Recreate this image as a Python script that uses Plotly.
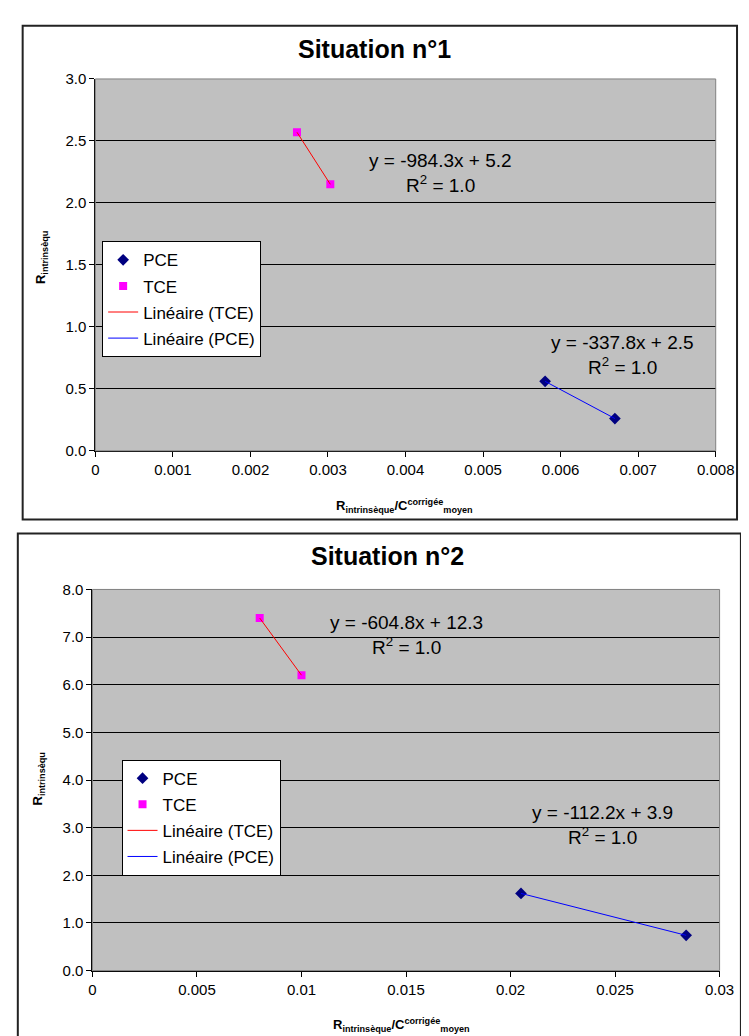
import numpy as np
import plotly.graph_objects as go

W, H = 749, 1036

# ---------------- data ----------------
titles = ["Situation n°1", "Situation n°2"]

pce_x1 = [0.0058, 0.0067]
pce_y1 = [0.56, 0.26]
tce_x1 = [0.0026, 0.00303]
tce_y1 = [2.57, 2.15]

pce_x2 = [0.0205, 0.0284]
pce_y2 = [1.62, 0.74]
tce_x2 = [0.0080, 0.0100]
tce_y2 = [7.40, 6.20]

eq_tce1 = ["y = -984.3x + 5.2", "R<sup>2</sup> = 1.0"]
eq_pce1 = ["y = -337.8x + 2.5", "R<sup>2</sup> = 1.0"]
eq_tce2 = ["y = -604.8x + 12.3", "R<sup>2</sup> = 1.0"]
eq_pce2 = ["y = -112.2x + 3.9", "R<sup>2</sup> = 1.0"]

x_range1, x_dtick1 = [0, 0.008], 0.001
y_range1, y_dtick1 = [0, 3.0], 0.5
x_range2, x_dtick2 = [0, 0.03], 0.005
y_range2, y_dtick2 = [0, 8.0], 1.0

legend_names = ["PCE", "TCE", "Linéaire (TCE)", "Linéaire (PCE)"]

FONT = "Liberation Sans, Arial, sans-serif"


def px(x):
    return x / W


def py(y):
    return 1 - y / H


def trend(xs, ys):
    k, b = np.polyfit(xs, ys, 1)
    xx = np.array([min(xs), max(xs)])
    return xx, k * xx + b


fig = go.Figure()


def add_chart(idx, pce_x, pce_y, tce_x, tce_y):
    xa = "x" if idx == 1 else "x2"
    ya = "y" if idx == 1 else "y2"
    lg = "legend" if idx == 1 else "legend2"
    fig.add_trace(go.Scatter(x=pce_x, y=pce_y, mode="markers", name=legend_names[0],
                             marker=dict(symbol="diamond", size=9, color="#000080"),
                             xaxis=xa, yaxis=ya, legend=lg, legendgroup="a%d" % idx))
    fig.add_trace(go.Scatter(x=tce_x, y=tce_y, mode="markers", name=legend_names[1],
                             marker=dict(symbol="square", size=8, color="#FF00FF"),
                             xaxis=xa, yaxis=ya, legend=lg, legendgroup="b%d" % idx))
    tx, ty = trend(tce_x, tce_y)
    fig.add_trace(go.Scatter(x=tx, y=ty, mode="lines", name=legend_names[2],
                             line=dict(color="#FF0000", width=1),
                             xaxis=xa, yaxis=ya, legend=lg, legendgroup="c%d" % idx))
    pxx, pyy = trend(pce_x, pce_y)
    fig.add_trace(go.Scatter(x=pxx, y=pyy, mode="lines", name=legend_names[3],
                             line=dict(color="#0000FF", width=1),
                             xaxis=xa, yaxis=ya, legend=lg, legendgroup="d%d" % idx))


add_chart(1, pce_x1, pce_y1, tce_x1, tce_y1)
add_chart(2, pce_x2, pce_y2, tce_x2, tce_y2)

# plot areas (pixels)
p1 = dict(x0=86, x1=726, y0=63, y1=441)
p2 = dict(x0=83, x1=730, y0=582, y1=969.5)

axis_common = dict(showline=True, linecolor="black", linewidth=1, ticks="outside",
                   ticklen=5, tickcolor="black", tickfont=dict(family=FONT, size=15, color="black"),
                   zeroline=False, mirror=False)

leg_common = dict(xanchor="left", yanchor="top", bgcolor="white",
                  bordercolor="black", borderwidth=1, font=dict(family=FONT, size=17),
                  traceorder="grouped", tracegroupgap=1, itemwidth=30)

layout = dict(
    width=W, height=H, autosize=False,
    margin=dict(l=0, r=0, t=0, b=0),
    paper_bgcolor="white", plot_bgcolor="#C0C0C0",
    font=dict(family=FONT, color="black"),
    xaxis=dict(domain=[px(p1["x0"]), px(p1["x1"])], range=x_range1, dtick=x_dtick1, tick0=0,
               showgrid=False, anchor="y", **axis_common),
    yaxis=dict(domain=[py(p1["y1"]), py(p1["y0"])], range=y_range1, dtick=y_dtick1, tick0=0,
               tickformat=".1f", showgrid=True, gridcolor="black", gridwidth=1, anchor="x",
               **axis_common),
    xaxis2=dict(domain=[px(p2["x0"]), px(p2["x1"])], range=x_range2, dtick=x_dtick2, tick0=0,
                showgrid=False, anchor="y2", **axis_common),
    yaxis2=dict(domain=[py(p2["y1"]), py(p2["y0"])], range=y_range2, dtick=y_dtick2, tick0=0,
                tickformat=".1f", showgrid=True, gridcolor="black", gridwidth=1, anchor="x2",
                **axis_common),
    legend=dict(x=px(93), y=py(228), **leg_common),
    legend2=dict(x=px(113), y=py(755), **leg_common),
    showlegend=True,
)
fig.update_layout(**layout)

shapes = []
# outer chart borders
shapes.append(dict(type="rect", xref="paper", yref="paper", x0=px(11), x1=px(748), y0=py(511), y1=py(9),
                   line=dict(color="#222222", width=2), layer="below"))
shapes.append(dict(type="rect", xref="paper", yref="paper", x0=px(6), x1=px(752), y0=py(1040), y1=py(525),
                   line=dict(color="#222222", width=2), layer="below"))
# plot-area borders (gray)
for p in (p1, p2):
    shapes.append(dict(type="rect", xref="paper", yref="paper", x0=px(p["x0"]), x1=px(p["x1"]),
                       y0=py(p["y1"]), y1=py(p["y0"]), line=dict(color="#808080", width=1), layer="above"))
fig.update_layout(shapes=shapes)

ann = []


def text(x, y, t, size=19, bold=False, angle=0):
    ann.append(dict(xref="paper", yref="paper", x=px(x), y=py(y), text=("<b>%s</b>" % t) if bold else t,
                    showarrow=False, xanchor="center", yanchor="middle", textangle=angle,
                    font=dict(family=FONT, size=size, color="black")))


text(374, 33, titles[0], size=25, bold=True)
text(387, 548, titles[1], size=25, bold=True)

xt = "R<sub>intrinsèque</sub>/C<sup>corrigée</sup><sub>moyen</sub>"
yt = "R<sub>intrinsèqu</sub>"
text(405, 497, xt, size=13, bold=True)
text(402, 1025, xt, size=13, bold=True)
text(31, 245, yt, size=13, bold=True, angle=-90)
text(27, 775, yt, size=13, bold=True, angle=-90)

# trendline equations
text(442, 146, eq_tce1[0]); text(442, 170, eq_tce1[1])
text(630, 331, eq_pce1[0]); text(630, 355, eq_pce1[1])
text(407, 616, eq_tce2[0]); text(407, 640, eq_tce2[1])
text(609, 809, eq_pce2[0]); text(609, 833, eq_pce2[1])

fig.update_layout(annotations=ann)

fig.write_html("out.html")
